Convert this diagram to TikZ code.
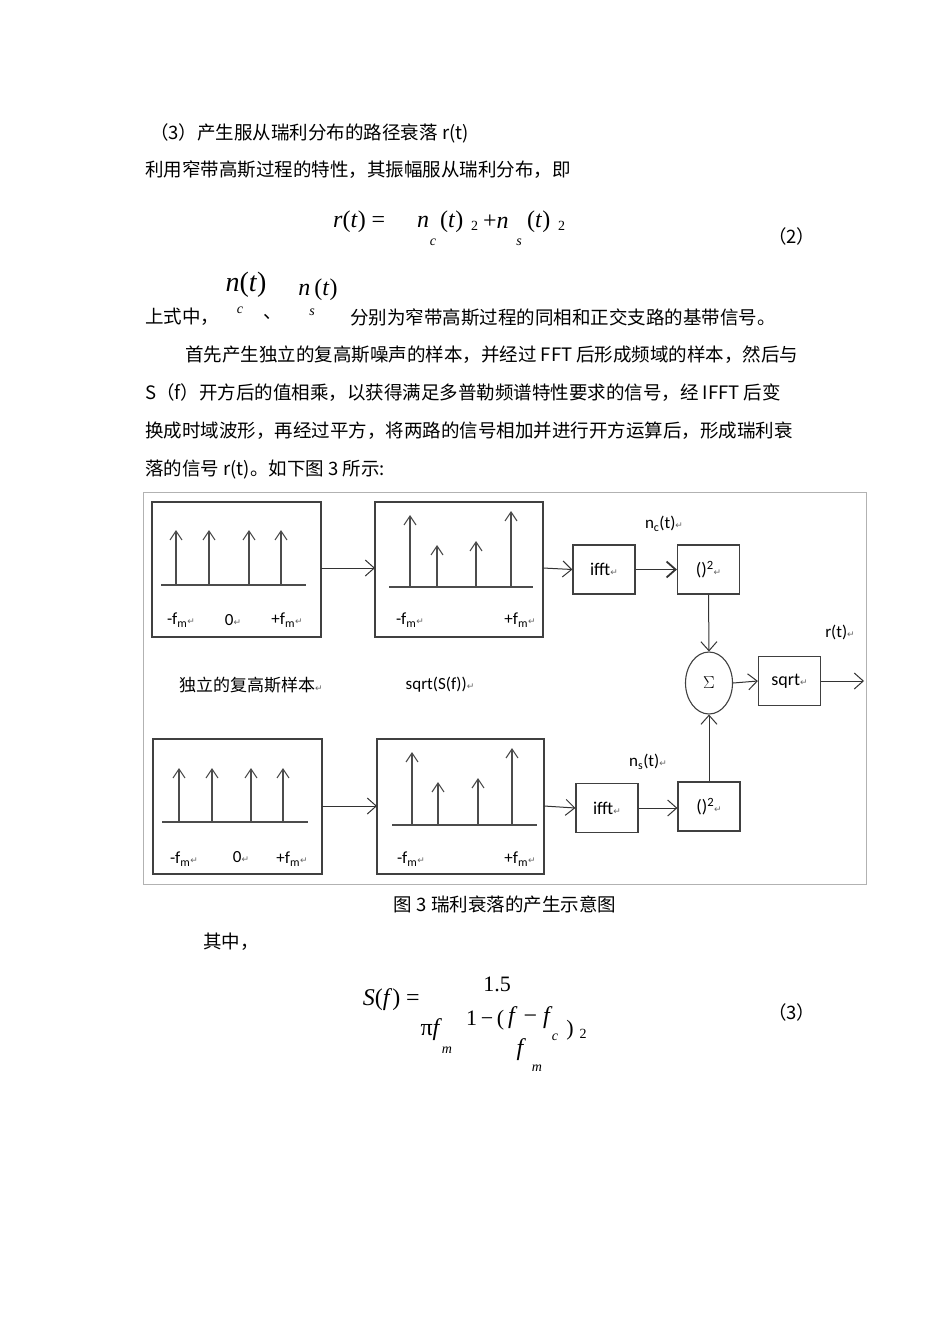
\documentclass[tikz,border=0pt]{standalone}
\usepackage{fontspec}
\setmainfont{Liberation Serif}
\newfontfamily\cjk{Noto Sans CJK SC}
\newfontfamily\dia{Carlito}
\newfontfamily\dvs{DejaVu Sans}
\usetikzlibrary{arrows.meta,shapes.geometric}
\newcommand\rtn{{\dvs\fontsize{9}{9}\selectfont\textcolor{black!60}{↵}}}
\begin{document}
\begin{tikzpicture}[x=1pt,y=-1pt,
  body/.style={anchor=west,inner sep=0pt,font=\cjk\fontsize{18.5}{20}\selectfont},
  mth/.style={inner sep=0pt,font=\fontsize{24}{26}\selectfont\itshape},
  sub/.style={inner sep=0pt,font=\fontsize{14}{15}\selectfont\itshape},
  rom/.style={inner sep=0pt,font=\fontsize{22}{24}\selectfont},
  sm/.style={inner sep=0pt,font=\fontsize{14}{15}\selectfont},
  panel/.style={draw=black!75,line width=1.3pt},
  blk/.style={draw=black!75,line width=1.2pt,minimum width=62pt,minimum height=49pt,inner sep=0pt,font=\dia\fontsize{18}{20}\selectfont},
  lbl/.style={inner sep=0pt,font=\dia\fontsize{17}{19}\selectfont},
  imp/.style={draw=black!70,line width=1.1pt,-{Straight Barb[length=9pt,width=12pt]}},
  ax/.style={draw=black!70,line width=1.3pt},
  ar/.style={draw=black!80,line width=1pt,-{Straight Barb[length=9pt,width=16pt]}}]
\useasboundingbox[fill=white] (0,0) rectangle (950,1344);
% text
\node[body] (l1) at (150,133) {（3）产生服从瑞利分布的路径衰落 r(t)};
\node[body] (l2) at (145,170) {利用窄带高斯过程的特性，其振幅服从瑞利分布，即};
\node[mth,anchor=west] (e1) at (333,222) {r\textup{(}t\textup{)} \textup{=}};
\node[mth,anchor=west] (e2) at (417,222) {n};
\node[mth,anchor=west] (e3) at (440,222) {\textup{(}t\textup{)}};
\node[sm,anchor=west] (e4) at (471,226) {2};
\node[mth,anchor=west] (e5) at (483,222) {\textup{+}n};
\node[mth,anchor=west] (e6) at (527,222) {\textup{(}t\textup{)}};
\node[sm,anchor=west] (e7) at (558,226) {2};
\node[sub] (ec) at (433,242) {c};
\node[sub] (es) at (519,242) {s};
\node[body] (n2) at (768,236) {（2）};
\node[mth,font=\fontsize{28}{30}\selectfont\itshape] (na) at (246,285) {n\textup{(}t\textup{)}};
\node[sub] (nac) at (240,310) {c};
\node[mth] (nb) at (318,290) {n\,\textup{(}t\textup{)}};
\node[sub] (nbs) at (312,312) {s};
\node[body] (l3) at (145,317) {上式中，};
\node[body] (l3b) at (263,317) {、};
\node[body] (l3c) at (350,317) {分别为窄带高斯过程的同相和正交支路的基带信号。};
\node[body] (p1) at (185,355) {首先产生独立的复高斯噪声的样本，并经过 FFT 后形成频域的样本，然后与};
\node[body] (p2) at (145,393) {S（f）开方后的值相乘，以获得满足多普勒频谱特性要求的信号，经 IFFT 后变};
\node[body] (p3) at (145,431) {换成时域波形，再经过平方，将两路的信号相加并进行开方运算后，形成瑞利衰};
\node[body] (p4) at (145,469) {落的信号 r(t)。如下图 3 所示:};
% diagram frame
\draw[black!30,line width=0.8pt] (143,492) rectangle (866,884);
% top row
\draw[panel] (152,502) rectangle (321,637);
\draw[ax] (161,585) -- (306,585);
\foreach \x in {176,209,249,281} \draw[imp] (\x,585) -- (\x,530);
\node[lbl] (a1) at (181,620) {-f\textsubscript{m}\rtn};
\node[lbl] (a2) at (233,620) {0\rtn};
\node[lbl] (a3) at (287,620) {+f\textsubscript{m}\rtn};
\draw[panel] (375,502) rectangle (543,637);
\draw[ax] (389,587) -- (533,587);
\draw[imp] (410,587) -- (410,515);
\draw[imp] (437,587) -- (437,545);
\draw[imp] (476,587) -- (476,541);
\draw[imp] (511,587) -- (511,511);
\node[lbl] (b1) at (410,620) {-f\textsubscript{m}\rtn};
\node[lbl] (b2) at (520,620) {+f\textsubscript{m}\rtn};
\node[blk] (if1) at (604,569.5) {ifft\rtn};
\node[blk] (sq1) at (708.5,569.5) {()\textsuperscript{2}\rtn};
\node[lbl] (nc) at (664,524) {n\textsubscript{c}(t)\rtn};
\draw[ar] (321,568) -- (375,568);
\draw[ar] (543,568) -- (if1.west);
\draw[ar,line width=1.8pt] (if1.east) -- (sq1.west);
% sum
\node[draw=black!75,line width=1.1pt,ellipse,minimum width=47pt,minimum height=62pt,inner sep=0pt,font=\fontsize{18}{20}\selectfont] (sum) at (709,683) {$\Sigma$};
\node[blk] (sqrt) at (789.5,681) {sqrt\rtn};
\coordinate (out) at (864,681);
\node[lbl] (rt) at (840,632) {r(t)\rtn};
\draw[ar] (sq1.south) -- (sum.north);
\draw[ar] (sum.east) -- (sqrt.west);
\draw[ar] (sqrt.east) -- (out);
\node[lbl,font=\cjk\fontsize{17}{18}\selectfont] (t1) at (251,685) {独立的复高斯样本\rtn};
\node[lbl] (t2) at (440,685) {sqrt(S(f))\rtn};
% bottom row
\draw[panel] (153,739) rectangle (322,874);
\draw[ax] (162,822) -- (308,822);
\foreach \x in {179,212,251,283} \draw[imp] (\x,822) -- (\x,768);
\node[lbl] (c1) at (184,859) {-f\textsubscript{m}\rtn};
\node[lbl] (c2) at (241,857) {0\rtn};
\node[lbl] (c3) at (292,859) {+f\textsubscript{m}\rtn};
\draw[panel] (377,739) rectangle (544,874);
\draw[ax] (392,825) -- (537,825);
\draw[imp] (412,825) -- (412,752);
\draw[imp] (438,825) -- (438,782);
\draw[imp] (478,825) -- (478,778);
\draw[imp] (512,825) -- (512,748);
\node[lbl] (d1) at (411,859) {-f\textsubscript{m}\rtn};
\node[lbl] (d2) at (520,859) {+f\textsubscript{m}\rtn};
\node[blk] (if2) at (607,808) {ifft\rtn};
\node[blk] (sq2) at (709,806.5) {()\textsuperscript{2}\rtn};
\node[lbl] (ns) at (648,762) {n\textsubscript{s}(t)\rtn};
\draw[ar] (322,806) -- (377,806);
\draw[ar] (544,806) -- (if2.west);
\draw[ar] (if2.east) -- (sq2.west |- if2.east);
\draw[ar] (sq2.north) -- (sum.south);
% caption
\node[body,anchor=center] (cap) at (505,904) {图 3  瑞利衰落的产生示意图};
\node[body] (qz) at (203,942) {其中，};
% formula 3
\node[rom] (f15) at (497,984) {1.5};
\node[mth,anchor=east] (sf) at (420,1000) {S\textup{(}f\textup{)} \textup{=}};
\node[mth] (pi) at (430,1030) {\textup{π}f};
\node[sub] (pim) at (447,1050) {m};
\node[rom,anchor=west] (br) at (466,1020) {1\,−\,(};
\node[mth] (fr) at (529,1018) {f \textup{−} f};
\node[sub] (frc) at (555,1037) {c};
\node[rom] (cl) at (570,1030) {)};
\node[sm] (cl2) at (583,1034) {2};
\node[mth] (fm) at (520,1050) {f};
\node[sub] (fmm) at (537,1068) {m};
\node[body] (n3) at (768,1012) {（3）};
\end{tikzpicture}
\end{document}
